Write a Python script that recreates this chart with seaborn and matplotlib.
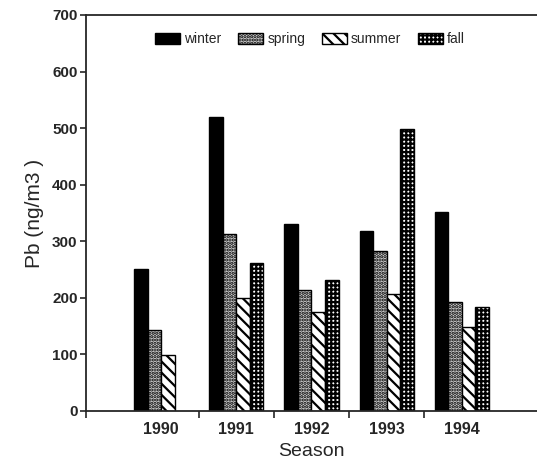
import numpy as np
import pandas as pd
import seaborn as sns
import matplotlib.pyplot as plt

# values (ng/m3)
years = ["1990", "1991", "1992", "1993", "1994"]
seasons = ["winter", "spring", "summer", "fall"]
winter = [251, 520, 330, 318, 352]
spring = [143, 312, 214, 283, 193]
summer = [99, 199, 175, 207, 149]
fall = [np.nan, 261, 231, 498, 183]

df = pd.DataFrame({"year": years * 4,
                   "season": np.repeat(seasons, len(years)),
                   "Pb": winter + spring + summer + fall})

sns.set_style("ticks")
plt.rcParams['font.family'] = ['Liberation Sans', 'DejaVu Sans']
plt.rcParams['hatch.linewidth'] = 1.6

fig = plt.figure(figsize=(5.37, 4.67), dpi=100)
ax = fig.add_axes([0.16, 0.12, 0.84, 0.848])

sns.barplot(data=df, x="year", y="Pb", hue="season", hue_order=seasons,
            order=years, width=0.72, gap=0, palette=["black"] * 4,
            edgecolor="black", linewidth=1.0, ax=ax)

# fills / hatches per season
styles = {"winter": ("black", ""), "spring": ("#d0d0d0", "....."),
          "summer": ("white", "\\\\\\"), "fall": ("white", "++++")}
for cont, s in zip(ax.containers, seasons):
    fc, h = styles[s]
    for bar in cont:
        bar.set_facecolor(fc)
        bar.set_hatch(h)
        bar.set_edgecolor("black")

ax.set_xlim(-1, 5)
ax.set_ylim(0, 700)
ax.set_yticks(range(0, 701, 100))
ax.set_xticks([0, 1, 2, 3, 4])
ax.set_xticklabels(years, fontsize=11.5, fontweight="bold")
ax.tick_params(axis="x", length=0, pad=8)
ax.set_xticks([-1, 0.5, 1.5, 2.5, 3.5], minor=True)
ax.tick_params(axis="x", which="minor", length=5, width=1.2, direction="out")
ax.tick_params(axis="y", length=4, width=1.2, labelsize=11, pad=2)
for t in ax.get_yticklabels():
    t.set_fontweight("bold")

for side in ["left", "bottom", "top"]:
    ax.spines[side].set_linewidth(1.3)
ax.spines["right"].set_visible(False)

ax.set_xlabel("Season", fontsize=14, labelpad=4)
ax.set_ylabel("Pb (ng/m3 )", fontsize=15, labelpad=6)

handles, labels = ax.get_legend_handles_labels()
for hd, s in zip(handles, seasons):
    fc, h = styles[s]
    hd.set_facecolor(fc)
    hd.set_hatch(h)
    hd.set_edgecolor("black")
ax.legend(handles, labels, ncol=4, loc="center", bbox_to_anchor=(0.497, 0.939),
          frameon=False, fontsize=10, handlelength=1.8, handleheight=0.9,
          handletextpad=0.3, columnspacing=1.2, borderpad=0)

fig.savefig("out.png", dpi=100)
